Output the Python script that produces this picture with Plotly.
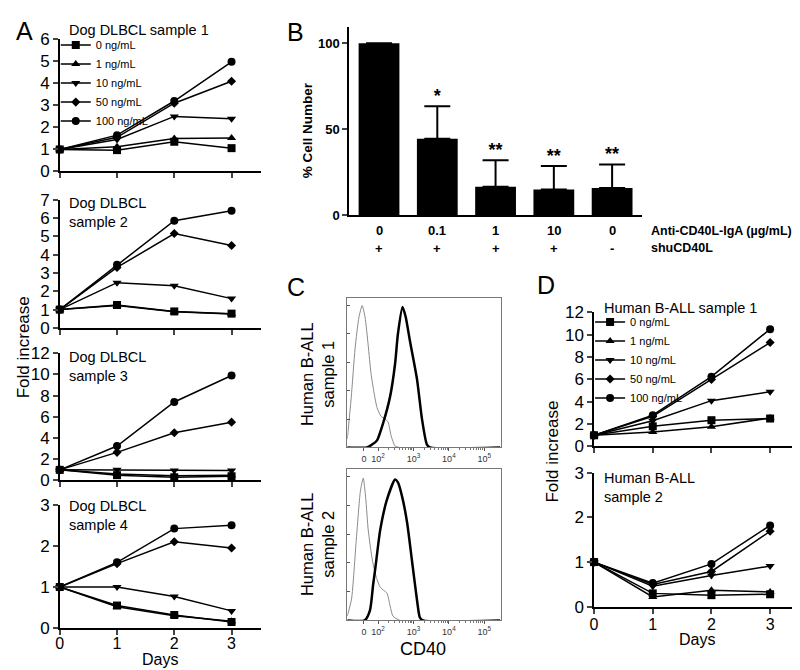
import numpy as np
import plotly.graph_objects as go

W, H = 800, 670
FONT = "Arial, Liberation Sans, sans-serif"


def fx(p):
    return p / W


def fy(p):
    return 1 - p / H


# ---------------- data ----------------
days = [0, 1, 2, 3]
conc_labels = ["0 ng/mL", "1 ng/mL", "10 ng/mL", "50 ng/mL", "100 ng/mL"]
symbols = ["square", "triangle-up", "triangle-down", "diamond", "circle"]
msizes = [8, 8, 8, 7, 8]

# Dog DLBCL (panel A): rows = 0, 1, 10, 50, 100 ng/mL
dog1 = [[1, 0.97, 1.35, 1.06],
        [1, 1.12, 1.50, 1.52],
        [1, 1.45, 2.50, 2.40],
        [1, 1.55, 3.10, 4.10],
        [1, 1.65, 3.20, 4.98]]
dog2 = [[1, 1.25, 0.90, 0.78],
        [1, 1.22, 0.88, 0.76],
        [1, 2.47, 2.30, 1.60],
        [1, 3.30, 5.15, 4.50],
        [1, 3.45, 5.85, 6.40]]
dog3 = [[1, 0.50, 0.30, 0.40],
        [1, 0.60, 0.45, 0.50],
        [1, 1.00, 0.95, 0.95],
        [1, 2.65, 4.50, 5.50],
        [1, 3.25, 7.40, 9.90]]
dog4 = [[1, 0.55, 0.32, 0.15],
        [1, 0.52, 0.30, 0.17],
        [1, 1.00, 0.77, 0.42],
        [1, 1.57, 2.10, 1.95],
        [1, 1.60, 2.42, 2.50]]

# Human B-ALL (panel D)
hum1 = [[1, 1.80, 2.35, 2.50],
        [1, 1.30, 1.77, 2.55],
        [1, 2.30, 4.10, 4.90],
        [1, 2.70, 6.00, 9.30],
        [1, 2.80, 6.25, 10.50]]
hum2 = [[1, 0.30, 0.26, 0.28],
        [1, 0.22, 0.37, 0.33],
        [1, 0.46, 0.70, 0.91],
        [1, 0.50, 0.79, 1.69],
        [1, 0.53, 0.96, 1.82]]

# Panel B
b_pos = [0, 1, 2, 3, 4]
ab_labels = ["0", "0.1", "1", "10", "0"]
shu_labels = ["+", "+", "+", "+", "-"]
pct_cells = [100, 44.5, 16.5, 15.0, 15.8]
pct_err = [0, 18.9, 15.5, 13.6, 13.7]
stars = ["", "*", "**", "**", "**"]

# Panel C: CD40 histograms (display units: 2 = 10^2, 3 = 10^3 ...; % of max)
c_ticks = [1.6, 2, 3, 4, 5]
c_ticktext = ["0", "10<sup>2</sup>", "10<sup>3</sup>", "10<sup>4</sup>", "10<sup>5</sup>"]
s1_iso_x = [1.13, 1.24, 1.35, 1.46, 1.55, 1.63, 1.72, 1.80, 1.89, 1.97, 2.08, 2.20, 2.28, 2.37, 2.48, 2.60, 5.45]
s1_iso_y = [6, 35, 70, 92, 100, 92, 72, 52, 38, 28, 22, 20, 18, 8, 1, 0, 0]
s1_cd40_x = [1.13, 1.69, 1.83, 1.97, 2.14, 2.34, 2.48, 2.56, 2.69, 2.78, 2.90, 3.10, 3.24, 3.38, 3.47, 5.45]
s1_cd40_y = [0, 0, 2, 5, 17, 36, 59, 80, 99, 92, 75, 48, 20, 2, 0, 0]
s2_iso_x = [1.13, 1.25, 1.38, 1.50, 1.58, 1.65, 1.72, 1.80, 1.86, 1.95, 2.06, 2.15, 2.25, 2.34, 2.42, 2.62, 5.45]
s2_iso_y = [3, 15, 55, 90, 99, 85, 63, 48, 39, 30, 23, 21, 19, 10, 3, 0, 0]
s2_cd40_x = [1.13, 1.62, 1.77, 1.86, 1.92, 2.06, 2.25, 2.48, 2.56, 2.68, 2.82, 2.96, 3.10, 3.18, 3.27, 5.45]
s2_cd40_y = [0, 0, 7, 25, 36, 63, 84, 98, 96, 86, 68, 41, 14, 2, 0, 0]

# ---------------- figure ----------------
fig = go.Figure()


def add_lines(series, xa, ya, legend=None, show=False):
    for lab, sym, sz, vals in zip(conc_labels, symbols, msizes, series):
        fig.add_trace(go.Scatter(
            x=days, y=vals, mode="lines+markers", name=lab,
            xaxis=xa, yaxis=ya, cliponaxis=False,
            line=dict(color="black", width=1.5),
            marker=dict(symbol=sym, size=sz, color="black"),
            showlegend=show, legend=legend))


add_lines(dog1, "x", "y", "legend", True)
add_lines(dog2, "x2", "y2")
add_lines(dog3, "x3", "y3")
add_lines(dog4, "x4", "y4")
add_lines(hum1, "x8", "y8", "legend2", True)
add_lines(hum2, "x9", "y9")

# Panel B bars
fig.add_trace(go.Bar(
    x=b_pos, y=pct_cells, xaxis="x5", yaxis="y5", width=0.7,
    marker=dict(color="black", line=dict(width=0)),
    error_y=dict(type="data", symmetric=False, array=pct_err,
                 arrayminus=[0] * len(pct_err), color="black",
                 thickness=2, width=13),
    showlegend=False))
fig.add_trace(go.Scatter(
    x=b_pos, y=[v + e for v, e in zip(pct_cells, pct_err)], mode="text",
    text=stars, textposition="top center", xaxis="x5", yaxis="y5",
    textfont=dict(size=18, family=FONT, color="black", weight="bold"),
    cliponaxis=False, showlegend=False))

# Panel C histograms
for xs, ys, xa, ya, col, wd in [
        (s1_iso_x, s1_iso_y, "x6", "y6", "#8a8a8a", 1),
        (s1_cd40_x, s1_cd40_y, "x6", "y6", "black", 2.5),
        (s2_iso_x, s2_iso_y, "x7", "y7", "#8a8a8a", 1),
        (s2_cd40_x, s2_cd40_y, "x7", "y7", "black", 2.5)]:
    fig.add_trace(go.Scatter(x=xs, y=ys, mode="lines", xaxis=xa, yaxis=ya,
                             line=dict(color=col, width=wd, shape="spline", smoothing=0.6),
                             showlegend=False))

layout = dict(width=W, height=H, margin=dict(l=0, r=0, t=0, b=0),
              paper_bgcolor="white", plot_bgcolor="white",
              font=dict(family=FONT, color="black"))


def lx(dom, show, name, fs, so):
    return dict(domain=[fx(dom[0]), fx(dom[1])], range=[0, 3.51], tickvals=days,
                showticklabels=show, ticks="outside", ticklen=5, tickwidth=1.5,
                showline=True, linewidth=1.5, linecolor="black", showgrid=False,
                zeroline=False, tickfont=dict(family=FONT, size=fs, color="black"),
                anchor=name, fixedrange=True, ticklabelstandoff=so)


def ly(dom, rng, dt, name, fs):
    return dict(domain=[fy(dom[0]), fy(dom[1])], range=rng, dtick=dt, tick0=0,
                ticks="outside", ticklen=5, tickwidth=1.5, showline=True,
                linewidth=1.5, linecolor="black", showgrid=False, zeroline=False,
                tickfont=dict(family=FONT, size=fs, color="black"),
                anchor=name, fixedrange=True)


A_X = (48, 250)
layout["xaxis"] = lx(A_X, False, "y", 17, -4)
layout["yaxis"] = ly((159, 23), [0, 6], 1, "x", 17)
layout["xaxis2"] = lx(A_X, False, "y2", 17, -4)
layout["yaxis2"] = ly((320, 188), [0, 7], 1, "x2", 17)
layout["xaxis3"] = lx(A_X, False, "y3", 17, -4)
layout["yaxis3"] = ly((477, 346), [0, 12], 2, "x3", 17)
layout["xaxis4"] = lx(A_X, True, "y4", 16, -5)
layout["yaxis4"] = ly((629, 502), [0, 3], 1, "x4", 17)

D_X = (585, 792)
layout["xaxis8"] = lx(D_X, False, "y8", 16, -3)
layout["yaxis8"] = ly((442, 304), [0, 12], 2, "x8", 17)
layout["xaxis9"] = lx(D_X, True, "y9", 16, -3)
layout["yaxis9"] = ly((607, 469), [0, 3], 1, "x9", 17)

# Panel B axes
bfont = dict(family=FONT, size=13, color="black", weight="bold")
layout["xaxis5"] = dict(domain=[fx(339), fx(633)], range=[-0.51, 4.51], anchor="y5",
                        tickvals=b_pos, showticklabels=False,
                        ticks="", showline=True, linewidth=2, linecolor="black",
                        showgrid=False, zeroline=False, fixedrange=True)
layout["yaxis5"] = dict(domain=[fy(204), fy(10)], range=[0, 109.6], anchor="x5",
                        tickvals=[0, 50, 100], ticks="outside", ticklen=5, tickwidth=2,
                        showline=True, linewidth=2, linecolor="black", showgrid=False,
                        zeroline=False, tickfont=bfont, fixedrange=True)

# Panel C axes
minor_vals = [d + np.log10(k) for d in (2, 3, 4) for k in range(2, 10)]


def cx(name):
    return dict(domain=[fx(337), fx(491)], range=[1.13, 5.46], anchor=name,
                tickvals=c_ticks, ticktext=c_ticktext, ticks="outside", ticklen=3,
                tickcolor="#555", showline=True, mirror=True, linewidth=1,
                linecolor="#777", showgrid=False, zeroline=False,
                tickfont=dict(family=FONT, size=9, color="#333"),
                minor=dict(tickmode="array", tickvals=minor_vals, ticks="outside",
                           ticklen=2, tickcolor="#777"),
                fixedrange=True)


def cy(dom, name):
    return dict(domain=[fy(dom[0]), fy(dom[1])], range=[0, 105.5], anchor=name,
                tickvals=[0, 20, 40, 60, 80, 100], ticks="inside", ticklen=3,
                tickcolor="#555", showticklabels=False, showline=True, mirror=True,
                linewidth=1, linecolor="#777", showgrid=False, zeroline=False,
                fixedrange=True)


layout["xaxis6"] = cx("y6")
layout["yaxis6"] = cy((443, 289), "x6")
layout["xaxis7"] = cx("y7")
layout["yaxis7"] = cy((621, 465), "x7")

legf = dict(family=FONT, size=11, color="black")
layout["legend"] = dict(x=fx(44), y=fy(14), xanchor="left", yanchor="top",
                        bgcolor="rgba(0,0,0,0)", font=legf, itemwidth=30,
                        tracegroupgap=0)
layout["legend2"] = dict(x=fx(581), y=fy(299), xanchor="left", yanchor="top",
                         bgcolor="rgba(0,0,0,0)", font=legf, itemwidth=30,
                         tracegroupgap=0)

ann = []


def text(t, x, y, size, xanchor="left", angle=0, bold=False, yanchor="middle",
         xref="paper"):
    ann.append(dict(text=t, x=(fx(x) if xref == "paper" else x), y=fy(y),
                    xref=xref, yref="paper", align="left" if xanchor == "left" else "center",
                    xanchor=xanchor, yanchor=yanchor, showarrow=False, textangle=angle,
                    font=dict(family=FONT, size=size, color="black",
                              weight="bold" if bold else "normal")))


# panel letters
text("A", 2, 14, 25)
text("B", 274, 15, 25)
text("C", 274, 278, 25)
text("D", 526, 276, 25)
# panel A titles
text("Dog DLBCL sample 1", 55, 13, 14.5)
text("Dog DLBCL<br>sample 2", 55, 201, 14.5)
text("Dog DLBCL<br>sample 3", 55, 360, 14.5)
text("Dog DLBCL<br>sample 4", 55, 513, 14.5)
text("Fold increase", 11, 340, 17, xanchor="center", angle=-90)
text("Days", 149, 661, 16, xanchor="center")
# panel B
text("% Cell Number", 297, 117, 13.5, xanchor="center", angle=-90, bold=True)
for p, a, s in zip(b_pos, ab_labels, shu_labels):
    text(a, p, 220, 13, xanchor="center", bold=True, xref="x5")
    text(s, p, 238, 13, xanchor="center", bold=True, xref="x5")
text("Anti-CD40L-IgA (µg/mL)", 640, 220, 12.5, bold=True)
text("shuCD40L", 640, 238, 12.5, bold=True)
# panel C
text("Human B-ALL<br>sample 1", 307, 367, 16.5, xanchor="center", angle=-90)
text("Human B-ALL<br>sample 2", 307, 542, 16.5, xanchor="center", angle=-90)
text("CD40", 413, 650, 18, xanchor="center")
# panel D
text("Human B-ALL sample 1", 593, 300, 14.5)
text("Human B-ALL<br>sample 2", 593, 484, 14.5)
text("Fold increase", 543, 447, 17, xanchor="center", angle=-90)
text("Days", 688, 641, 16, xanchor="center")

layout["annotations"] = ann
fig.update_layout(**layout)
fig.write_html("out.html")
